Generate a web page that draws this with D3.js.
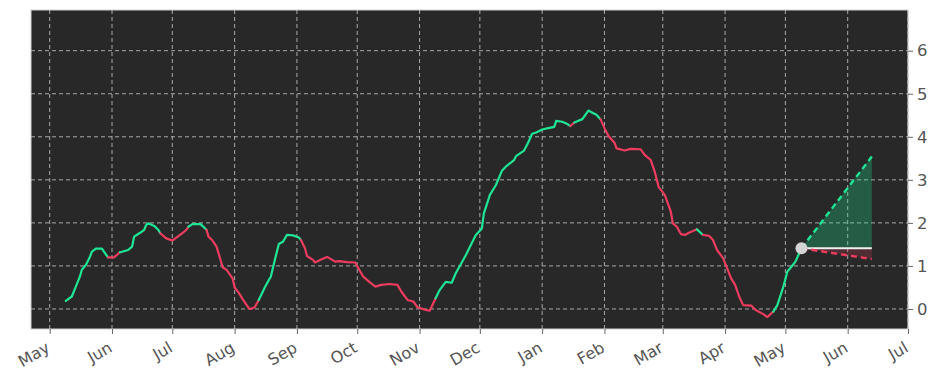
<!DOCTYPE html>
<html>
<head>
<meta charset="utf-8">
<script src="https://cdn.jsdelivr.net/npm/d3@7"></script>
<style>
  html, body { margin: 0; padding: 0; background: #ffffff; }
  svg { display: block; }
</style>
</head>
<body>
<svg id="chart" width="938" height="381"></svg>
<script>
// ---------- DATA ----------
const dates = [
"2023-05-09","2023-05-12","2023-05-14","2023-05-16","2023-05-17","2023-05-19","2023-05-21","2023-05-22","2023-05-24","2023-05-27",
"2023-05-28","2023-05-30","2023-06-02","2023-06-05","2023-06-06","2023-06-09","2023-06-11","2023-06-12","2023-06-15","2023-06-17",
"2023-06-18","2023-06-19","2023-06-22","2023-06-24","2023-06-25","2023-06-28","2023-07-01","2023-07-02","2023-07-06","2023-07-08",
"2023-07-09","2023-07-11","2023-07-15","2023-07-16","2023-07-18","2023-07-19","2023-07-21","2023-07-23","2023-07-25","2023-07-26",
"2023-07-28","2023-07-31","2023-08-01","2023-08-03","2023-08-05","2023-08-08","2023-08-09","2023-08-11","2023-08-13","2023-08-16",
"2023-08-18","2023-08-19","2023-08-21","2023-08-23","2023-08-25","2023-08-27","2023-08-30","2023-09-02","2023-09-03","2023-09-05",
"2023-09-06","2023-09-09","2023-09-10","2023-09-13","2023-09-16","2023-09-20","2023-09-22","2023-09-26","2023-09-30","2023-10-02",
"2023-10-04","2023-10-07","2023-10-10","2023-10-13","2023-10-17","2023-10-21","2023-10-23","2023-10-26","2023-10-29","2023-10-31",
"2023-11-04","2023-11-06","2023-11-07","2023-11-09","2023-11-11","2023-11-14","2023-11-17","2023-11-19","2023-11-22","2023-11-24",
"2023-11-27","2023-11-29","2023-12-02","2023-12-03","2023-12-06","2023-12-09","2023-12-12","2023-12-14","2023-12-18","2023-12-19",
"2023-12-23","2023-12-25","2023-12-27","2023-12-29","2024-01-01","2024-01-04","2024-01-07","2024-01-08","2024-01-11","2024-01-13",
"2024-01-15","2024-01-17","2024-01-21","2024-01-24","2024-01-26","2024-01-28","2024-01-30","2024-02-01","2024-02-03","2024-02-06",
"2024-02-07","2024-02-11","2024-02-14","2024-02-19","2024-02-21","2024-02-24","2024-02-26","2024-02-28","2024-03-02","2024-03-05",
"2024-03-06","2024-03-08","2024-03-10","2024-03-12","2024-03-14","2024-03-18","2024-03-21","2024-03-24","2024-03-26","2024-03-28",
"2024-03-31","2024-04-02","2024-04-04","2024-04-06","2024-04-08","2024-04-10","2024-04-14","2024-04-16","2024-04-20","2024-04-22",
"2024-04-25","2024-04-27","2024-04-30","2024-05-02","2024-05-04","2024-05-06","2024-05-09"
];

const values = [
0.19,0.29,0.52,0.75,0.91,1.02,1.21,1.33,1.40,1.40,
1.33,1.20,1.20,1.32,1.33,1.37,1.45,1.68,1.77,1.84,
1.95,1.99,1.93,1.84,1.76,1.64,1.59,1.62,1.76,1.84,
1.91,1.97,1.97,1.93,1.84,1.68,1.59,1.45,1.14,0.97,
0.91,0.71,0.50,0.38,0.23,0.02,0.00,0.04,0.21,0.50,
0.67,0.75,1.14,1.51,1.56,1.72,1.71,1.66,1.60,1.41,
1.23,1.14,1.08,1.15,1.21,1.10,1.11,1.09,1.08,0.91,
0.75,0.63,0.52,0.56,0.58,0.56,0.40,0.21,0.17,0.04,
-0.02,-0.04,0.05,0.25,0.44,0.63,0.61,0.83,1.08,1.25,
1.53,1.72,1.87,2.22,2.65,2.88,3.21,3.31,3.46,3.55,
3.68,3.86,4.07,4.10,4.17,4.20,4.23,4.37,4.35,4.31,
4.25,4.33,4.41,4.61,4.56,4.51,4.41,4.20,4.02,3.86,
3.73,3.68,3.72,3.71,3.58,3.46,3.19,2.83,2.65,2.26,
1.99,1.91,1.74,1.72,1.77,1.85,1.72,1.70,1.60,1.37,
1.18,0.95,0.71,0.56,0.29,0.09,0.08,-0.02,-0.12,-0.19,
-0.06,0.09,0.52,0.87,0.98,1.10,1.41
];

// 1 = rising (green) segment, 0 = falling (red) segment; segment i -> i+1
const trend = [
1,1,1,1,1,1,1,1,1,1,
1,0,0,1,1,1,1,1,1,1,
1,1,1,1,0,0,0,0,0,0,
1,1,1,1,0,0,0,0,0,0,
0,0,0,0,0,0,0,0,1,1,
1,1,1,1,1,1,1,1,0,0,
0,0,0,0,0,0,0,0,0,0,
0,0,0,0,0,0,0,0,0,0,
0,0,0,1,1,1,1,1,1,1,
1,1,1,1,1,1,1,1,1,1,
1,1,1,1,1,1,1,1,1,1,
0,1,1,1,1,1,0,0,0,0,
0,0,0,0,0,0,0,0,0,0,
0,0,0,0,0,1,0,0,0,0,
0,0,0,0,0,0,0,0,0,0,
1,1,1,1,1,1,1
];

const forecastDates = ["2024-05-09", "2024-06-13"];
const forecastUpper = [1.41, 3.54];
const forecastLower = [1.41, 1.16];
const forecastMid   = [1.41, 1.41];

const monthTicks = ["2023-05-01","2023-06-01","2023-07-01","2023-08-01","2023-09-01","2023-10-01","2023-11-01",
  "2023-12-01","2024-01-01","2024-02-01","2024-03-01","2024-04-01","2024-05-01","2024-06-01","2024-07-01"];
const yTicks = [0, 1, 2, 3, 4, 5, 6];

// ---------- LAYOUT ----------
const parse = d3.utcParse("%Y-%m-%d");
const plot = { left: 31, right: 908, top: 10, bottom: 329 };
const GREEN = "#1fe596", RED = "#ee3c5e";

const xStart = new Date(Date.UTC(2023, 4, 1) - 9.3 * 86400000);
const x = d3.scaleUtc()
  .domain([xStart, parse("2024-07-01")])
  .range([plot.left, plot.right]);
const y = d3.scaleLinear()
  .domain([-0.465, 6.945])
  .range([plot.bottom, plot.top]);

const svg = d3.select("#chart");

// background
svg.append("rect")
  .attr("x", plot.left).attr("y", plot.top)
  .attr("width", plot.right - plot.left).attr("height", plot.bottom - plot.top)
  .attr("fill", "#282828");

// grid
const grid = svg.append("g");
grid.selectAll("line.v").data(monthTicks.map(parse)).join("line")
  .attr("x1", d => x(d)).attr("x2", d => x(d))
  .attr("y1", plot.top).attr("y2", plot.bottom)
  .attr("stroke", "#b8b8b8").attr("stroke-width", 0.9)
  .attr("stroke-dasharray", "4,3");
grid.selectAll("line.h").data(yTicks).join("line")
  .attr("x1", plot.left).attr("x2", plot.right)
  .attr("y1", d => y(d)).attr("y2", d => y(d))
  .attr("stroke", "#b8b8b8").attr("stroke-width", 0.9)
  .attr("stroke-dasharray", "4,3");

// clip
svg.append("clipPath").attr("id", "clip").append("rect")
  .attr("x", plot.left).attr("y", plot.top)
  .attr("width", plot.right - plot.left).attr("height", plot.bottom - plot.top);
const g = svg.append("g").attr("clip-path", "url(#clip)");

// forecast areas
const fd = forecastDates.map(parse);
const areaUp = d3.area().x((d, i) => x(fd[i])).y0((d, i) => y(forecastMid[i])).y1(d => y(d));
g.append("path").datum(forecastUpper).attr("d", areaUp)
  .attr("fill", GREEN).attr("fill-opacity", 0.28);
g.append("path").datum(forecastLower).attr("d", areaUp)
  .attr("fill", RED).attr("fill-opacity", 0.2);

// main series, coloured by trend
const pts = dates.map((d, i) => ({ date: parse(d), v: values[i] }));
const line = d3.line().x(d => x(d.date)).y(d => y(d.v));
const runs = [];
let start = 0;
for (let i = 1; i < pts.length - 1; i++) {
  if (trend[i] !== trend[start]) { runs.push({ s: start, e: i, c: trend[start] }); start = i; }
}
runs.push({ s: start, e: pts.length - 1, c: trend[start] });
g.selectAll("path.run").data(runs).join("path")
  .attr("d", r => line(pts.slice(r.s, r.e + 1)))
  .attr("fill", "none")
  .attr("stroke", r => r.c ? GREEN : RED)
  .attr("stroke-width", 2.2)
  .attr("stroke-linejoin", "round")
  .attr("stroke-linecap", "round");

// forecast lines
const fLine = d3.line().x((d, i) => x(fd[i])).y(d => y(d));
g.append("path").datum(forecastMid).attr("d", fLine)
  .attr("stroke", "#f0f0f0").attr("stroke-width", 2).attr("fill", "none");
g.append("path").datum(forecastUpper).attr("d", fLine)
  .attr("stroke", GREEN).attr("stroke-width", 2.4).attr("fill", "none")
  .attr("stroke-dasharray", "6,4");
g.append("path").datum(forecastLower).attr("d", fLine)
  .attr("stroke", RED).attr("stroke-width", 2.4).attr("fill", "none")
  .attr("stroke-dasharray", "6,4");

// last point marker
g.append("circle")
  .attr("cx", x(fd[0])).attr("cy", y(forecastMid[0])).attr("r", 6)
  .attr("fill", "#d4d4d4");

// frame
svg.append("rect")
  .attr("x", plot.left).attr("y", plot.top)
  .attr("width", plot.right - plot.left).attr("height", plot.bottom - plot.top)
  .attr("fill", "none").attr("stroke", "#d0d0d0").attr("stroke-width", 1);

// axes
const xAxis = d3.axisBottom(x).tickValues(monthTicks.map(parse))
  .tickFormat(d3.utcFormat("%b")).tickSize(5).tickPadding(4);
const gx = svg.append("g").attr("transform", `translate(0,${plot.bottom})`).call(xAxis);
gx.select(".domain").remove();
gx.selectAll(".tick line").attr("stroke", "#666");
gx.selectAll(".tick text")
  .attr("fill", "#555").attr("font-family", "DejaVu Sans").attr("font-size", 16)
  .attr("text-anchor", "end").attr("dy", "0.35em")
  .attr("transform", "translate(-2,17) rotate(-30)")
  .attr("y", 0).attr("x", 0);

const yAxis = d3.axisRight(y).tickValues(yTicks).tickFormat(d3.format("d")).tickSize(5).tickPadding(4);
const gy = svg.append("g").attr("transform", `translate(${plot.right},0)`).call(yAxis);
gy.select(".domain").remove();
gy.selectAll(".tick line").attr("stroke", "#666");
gy.selectAll(".tick text")
  .attr("fill", "#555").attr("font-family", "DejaVu Sans").attr("font-size", 16.5);
</script>
</body>
</html>
